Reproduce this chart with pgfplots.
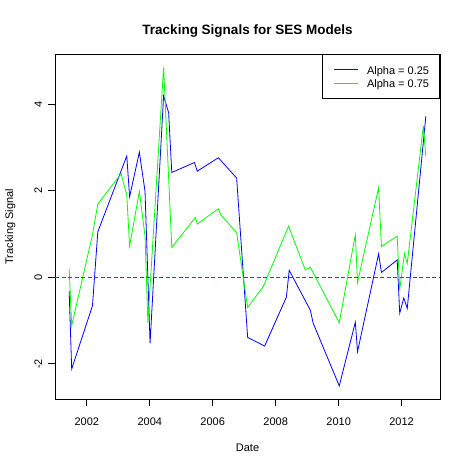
\documentclass[border=0pt]{standalone}
\usepackage{fontspec}
\setmainfont{Liberation Sans}
\usepackage{pgfplots}
\pgfplotsset{compat=1.18}
\definecolor{rred}{RGB}{255,0,0}
\definecolor{rblue}{RGB}{0,0,255}
\definecolor{rgreen}{RGB}{0,255,0}
\begin{document}
\begin{tikzpicture}
\path[use as bounding box] (0,0) rectangle (468pt,468pt);
\begin{axis}[
  at={(55pt,68.7pt)}, anchor=south west,
  scale only axis, width=385pt, height=345pt,
  xmin=2000.99, xmax=2013.22, ymin=-2.82, ymax=5.15,
  axis line style={line width=0.8pt},
  tick style={line width=0.8pt, black},
  tick align=outside, major tick length=7pt, tick pos=left,
  xtick={2002,2004,2006,2008,2010,2012},
  xticklabels={2002,2004,2006,2008,2010,2012},
  ytick={-2,0,2,4}, yticklabels={-2,0,2,4},
  /pgf/number format/assume math mode=true,
  font=\fontsize{11}{13}\selectfont,
  xticklabel style={anchor=base}, xticklabel shift=19.4pt,
  yticklabel style={xshift=-9.7pt, rotate=90, anchor=center},
  title={Tracking Signals for SES Models},
  title style={at={(0.5,1)}, anchor=base, yshift=14pt, font=\fontsize{13.5}{16}\selectfont\bfseries},
  xlabel={Date},
  xlabel style={at={(axis description cs:0.5,0)}, anchor=base, yshift=-52.4pt},
  ylabel={Tracking Signal},
  ylabel style={at={(axis description cs:-0.1086,0.5)}, anchor=base},
  legend style={at={(1,1)}, anchor=north east, draw=black, line width=0.8pt, fill=white,
    inner xsep=10.5pt, inner ysep=8.4pt, row sep=0pt, column sep=9pt,
    font=\fontsize{11}{13}\selectfont,
    nodes={inner sep=0pt, text height=11pt, text depth=2.3pt}},
  legend cell align=left,
  legend image code/.code={\draw[#1, line width=0.8pt] (0pt,0pt) -- (24pt,0pt);},
]
\addplot[color=rblue, line width=0.8pt] coordinates {
(2001.44,-0.32) (2001.52,-2.12) (2002.18,-0.66) (2002.35,1.05) (2003.27,2.80)
(2003.36,1.86) (2003.67,2.89) (2003.85,1.98) (2004.01,-1.53) (2004.44,4.19)
(2004.60,3.80) (2004.70,2.42) (2005.42,2.65) (2005.51,2.45) (2006.18,2.76)
(2006.76,2.29) (2007.11,-1.39) (2007.65,-1.59) (2008.34,-0.46) (2008.43,0.16)
(2009.10,-0.76) (2009.19,-1.06) (2010.02,-2.51) (2010.53,-1.04) (2010.60,-1.72)
(2011.27,0.54) (2011.36,0.11) (2011.86,0.40) (2011.94,-0.83) (2012.07,-0.48)
(2012.18,-0.72) (2012.77,3.72)
};
\addlegendentry{Alpha = 0.25}
\addplot[color=rgreen, line width=0.8pt] coordinates {
(2001.44,0.19) (2001.52,-1.12) (2002.18,0.98) (2002.35,1.69) (2003.09,2.39)
(2003.27,1.90) (2003.36,0.72) (2003.67,1.98) (2003.85,0.95) (2003.94,-1.05)
(2004.44,4.85) (2004.70,0.69) (2005.45,1.38) (2005.51,1.23) (2006.18,1.58)
(2006.26,1.44) (2006.76,1.03) (2007.11,-0.70) (2007.61,-0.21) (2008.41,1.18)
(2008.94,0.17) (2009.10,0.23) (2010.02,-1.05) (2010.53,0.98) (2010.60,-0.12)
(2011.27,2.07) (2011.36,0.71) (2011.86,0.95) (2011.94,-0.29) (2012.09,0.55)
(2012.18,0.32) (2012.69,3.49) (2012.77,2.79)
};
\addlegendentry{Alpha = 0.75}
\addplot[draw=rred, line width=0.8pt, dash pattern=on 4pt off 2.5pt] coordinates {
(2000.99,0) (2013.22,0)
};
\end{axis}
\end{tikzpicture}
\end{document}
